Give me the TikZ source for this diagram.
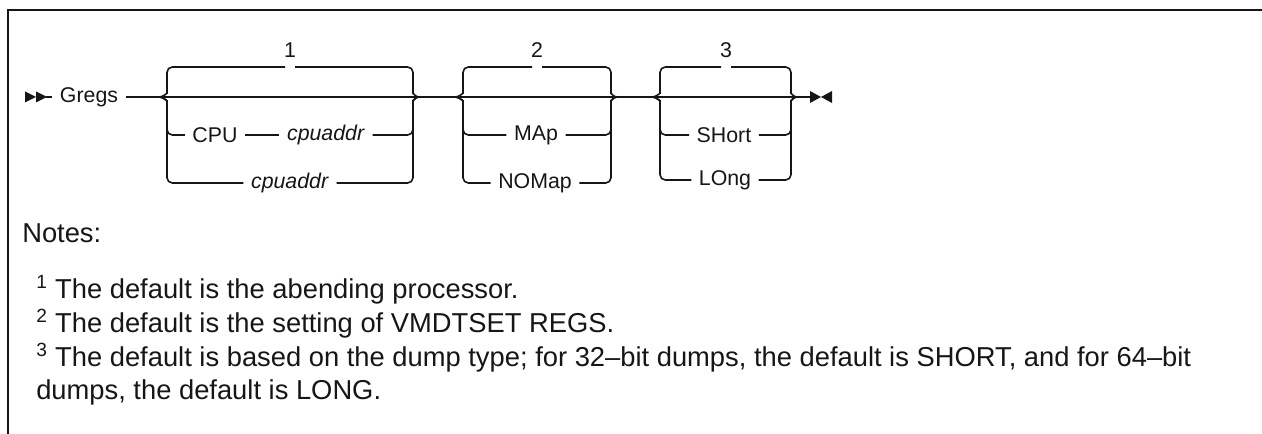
\documentclass[tikz,border=0pt]{standalone}
\usepackage{fontspec}
\setmainfont{Liberation Sans}
\usepackage{xcolor}
\definecolor{Tinta}{RGB}{22, 22, 22}
\tikzset{
  lbl/.style={inner sep=0pt, inner xsep=5.5pt, font=\fontsize{16}{19}\selectfont, text=Tinta},
  nota/.style={inner sep=0pt, anchor=west, font=\fontsize{20.5}{25}\selectfont, text=Tinta},
  via/.style={draw=Tinta, line width=1.2pt, rounded corners=4pt}
}

\begin{document}
\begin{tikzpicture}[x=0.75pt, y=-0.75pt]
            \useasboundingbox (0,0) rectangle (1262,434);
            \draw[draw=Tinta, line width=2pt] (8,434) -- (8,10) -- (1262,10);
            %Entrada
            \fill[Tinta] (25,91.5) -- (36,97) -- (25,102.5) -- cycle;
            \fill[Tinta] (36,91.5) -- (47,97) -- (36,102.5) -- cycle;
            \coordinate (S) at (46,97);
            \node[lbl] (G) at (89,97) {Gregs};
            \draw[via] (S) -- (G);
            %Grupo 1
            \coordinate (L1) at (159,97);
            \coordinate (R1) at (419,97);
            \node[lbl] (N1) at (290,50) {1};
            \coordinate (A1) at (285,67);
            \coordinate (B1) at (295,67);
            \draw[via] (G) -- (L1);
            \draw[via] (L1) to[out=0,in=-90] (167,88) -- (167,67) -- (A1);
            \draw[via] (B1) -- (413,67) -- (413,88) to[out=-90,in=180] (R1);
            \draw[via] (L1) -- (R1);
            \node[lbl] (CPU) at (215,135) {CPU};
            \node[lbl] (CA1) at (326,135) {\textit{cpuaddr}};
            \node[lbl] (CA2) at (290,183) {\textit{cpuaddr}};
            \draw[via] (L1) to[out=0,in=90] (167,106) -- (167,135) -- (CPU);
            \draw[via] (CPU) -- (CA1);
            \draw[via] (CA1) -- (413,135) -- (413,106) to[out=90,in=180] (R1);
            \draw[via] (L1) to[out=0,in=90] (167,106) -- (167,183) -- (CA2);
            \draw[via] (CA2) -- (413,183) -- (413,106) to[out=90,in=180] (R1);
            %Grupo 2
            \coordinate (L2) at (455,97);
            \coordinate (R2) at (617,97);
            \node[lbl] (N2) at (537,50) {2};
            \coordinate (A2) at (532,67);
            \coordinate (B2) at (542,67);
            \draw[via] (R1) -- (L2);
            \draw[via] (L2) to[out=0,in=-90] (463,88) -- (463,67) -- (A2);
            \draw[via] (B2) -- (611,67) -- (611,88) to[out=-90,in=180] (R2);
            \draw[via] (L2) -- (R2);
            \node[lbl] (MAP) at (536,135) {MAp};
            \node[lbl] (NOM) at (535,183) {NOMap};
            \draw[via] (L2) to[out=0,in=90] (463,106) -- (463,135) -- (MAP);
            \draw[via] (MAP) -- (611,135) -- (611,106) to[out=90,in=180] (R2);
            \draw[via] (L2) to[out=0,in=90] (463,106) -- (463,183) -- (NOM);
            \draw[via] (NOM) -- (611,183) -- (611,106) to[out=90,in=180] (R2);
            %Grupo 3
            \coordinate (L3) at (652,97);
            \coordinate (R3) at (797,97);
            \node[lbl] (N3) at (726,50) {3};
            \coordinate (A3) at (721,67);
            \coordinate (B3) at (731,67);
            \draw[via] (R2) -- (L3);
            \draw[via] (L3) to[out=0,in=-90] (660,88) -- (660,67) -- (A3);
            \draw[via] (B3) -- (791,67) -- (791,88) to[out=-90,in=180] (R3);
            \draw[via] (L3) -- (R3);
            \node[lbl] (SHO) at (724,135) {SHort};
            \node[lbl] (LON) at (725,180) {LOng};
            \draw[via] (L3) to[out=0,in=90] (660,106) -- (660,135) -- (SHO);
            \draw[via] (SHO) -- (791,135) -- (791,106) to[out=90,in=180] (R3);
            \draw[via] (L3) to[out=0,in=90] (660,106) -- (660,180) -- (LON);
            \draw[via] (LON) -- (791,180) -- (791,106) to[out=90,in=180] (R3);
            %Salida
            \coordinate (E) at (810,97);
            \draw[via] (R3) -- (E);
            \fill[Tinta] (810,91) -- (821,97) -- (810,103) -- cycle;
            \fill[Tinta] (832,91) -- (821,97) -- (832,103) -- cycle;
            %Notas
            \node[nota] (NT) at (22,233) {Notes:};
            \node[nota] (F1) at (36,290) {\textsuperscript{1} The default is the abending processor.};
            \node[nota] (F2) at (36,324) {\textsuperscript{2} The default is the setting of VMDTSET REGS.};
            \node[nota] (F3) at (36,358) {\textsuperscript{3} The default is based on the dump type; for 32–bit dumps, the default is SHORT, and for 64–bit};
            \node[nota] (F4) at (36,392) {dumps, the default is LONG.};
        \end{tikzpicture}
\end{document}
